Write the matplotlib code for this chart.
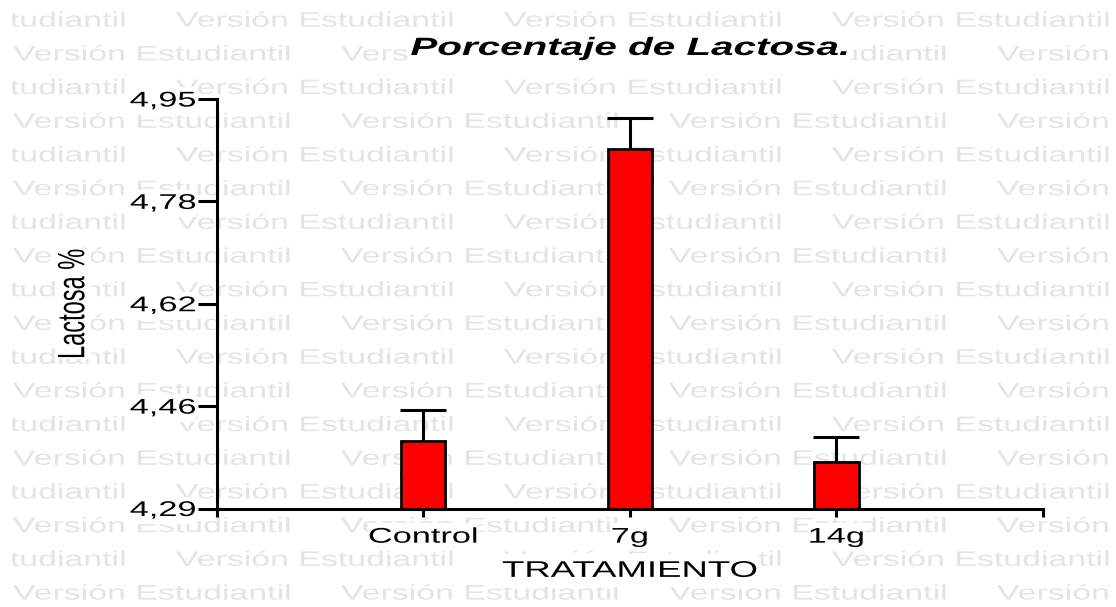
"""
plot.py

Bar chart of lactose percentage per treatment (Control, 7g, 14g) with SEM
whiskers, redrawn from a GraphPad student-version export. That export was
stretched sideways, so text gets widened by a small path effect, and the
"Versión Estudiantil" watermark is tiled behind everything.
"""
import matplotlib
matplotlib.use("Agg")
import matplotlib.pyplot as plt
import numpy as np
from matplotlib.patheffects import AbstractPathEffect
from matplotlib.transforms import Affine2D, Bbox, TransformedBbox


GROUPS = ["Control", "7g", "14g"]
LACTOSE = [4.398, 4.869, 4.365]
SEM = [0.051, 0.051, 0.041]

Y_TICKS = [4.29, 4.455, 4.62, 4.785, 4.95]
Y_TICK_LABELS = ["4,29", "4,46", "4,62", "4,78", "4,95"]

TITLE = "Porcentaje de Lactosa."
X_LABEL = "TRATAMIENTO"
Y_LABEL = "Lactosa %"
WATERMARK = "Versión Estudiantil"

RED = "#FF0000"
WM_GRAY = "#E4E4E4"
SX = 1.615          # sideways stretch of the original export

W, H = 1116, 607
# plot area in pixels (left, right, top, bottom)
AX_L, AX_R, AX_T, AX_B = 216.5, 1043, 99, 508.5


class Stretch(AbstractPathEffect):
    """Draw a path widened horizontally around its left/center/right edge
    (and optionally made taller around its middle)."""

    def __init__(self, sx=SX, anchor="center", sy=1.0):
        super().__init__()
        self.sx = sx
        self.sy = sy
        self.anchor = anchor

    def draw_path(self, renderer, gc, tpath, affine, rgbFace=None):
        ext = tpath.get_extents(affine)
        if self.anchor == "left":
            x0 = ext.x0
        elif self.anchor == "right":
            x0 = ext.x1
        else:
            x0 = (ext.x0 + ext.x1) / 2
        y0 = (ext.y0 + ext.y1) / 2
        affine = affine + (Affine2D().translate(-x0, -y0)
                           .scale(self.sx, self.sy).translate(x0, y0))
        renderer.draw_path(gc, tpath, affine, rgbFace)


def widen(text, anchor="center", box_sy=1.45):
    # white box behind the text, stretched the same way as the glyphs;
    # GraphPad's boxes are a bit taller than the glyphs
    text.set_path_effects([Stretch(SX, anchor)])
    text.set_bbox(dict(facecolor="white", edgecolor="none", pad=0))
    text.get_bbox_patch().set_path_effects([Stretch(SX, anchor, box_sy)])


def draw_watermark(fig):
    # the watermark only starts ~12 px in from the left edge
    clip = TransformedBbox(Bbox([[12 / W, 0], [1, 1]]), fig.transFigure)
    for row in range(18):
        y = 1 - (26.7 + 33.7 * row) / H
        x = -152 if row % 2 == 0 else 13
        while x < W:
            t = fig.text(x / W, y, WATERMARK, fontsize=15.1, color=WM_GRAY,
                         ha="left", va="baseline", zorder=-10,
                         path_effects=[Stretch(SX, "left")])
            t.set_clip_box(clip)
            t.set_clip_on(True)
            x += 328


def main():
    plt.rcParams["font.family"] = "Liberation Sans"

    fig = plt.figure(figsize=(W / 100, H / 100), dpi=100)
    fig.patch.set_facecolor("white")
    ax = fig.add_axes([AX_L / W, 1 - AX_B / H, (AX_R - AX_L) / W, (AX_B - AX_T) / H])
    ax.patch.set_visible(False)

    draw_watermark(fig)

    x = np.arange(1, len(GROUPS) + 1)
    ax.errorbar(x, LACTOSE, yerr=SEM, fmt="none", ecolor="black",
                elinewidth=2.2, capsize=16.5, capthick=2.2, zorder=2)
    ax.bar(x, LACTOSE, width=0.215, color=RED, edgecolor="black",
           linewidth=2, zorder=3)

    ax.set_xlim(0, len(GROUPS) + 1)
    ax.set_ylim(Y_TICKS[0], Y_TICKS[-1])
    ax.set_xticks(np.arange(0, len(GROUPS) + 2), [""] + GROUPS + [""])
    ax.set_yticks(Y_TICKS, Y_TICK_LABELS)

    for side in ("top", "right"):
        ax.spines[side].set_visible(False)
    for side in ("left", "bottom"):
        ax.spines[side].set_linewidth(2.2)
        ax.spines[side].set_zorder(4)

    ax.tick_params(axis="x", length=5.8, width=2.2, pad=8, labelsize=15.3)
    ax.tick_params(axis="y", length=13.7, width=2.2, pad=1.0, labelsize=15.3)
    for lab in ax.get_xticklabels():
        widen(lab, "center")
    for lab in ax.get_yticklabels():
        widen(lab, "right")

    ax.set_xlabel(X_LABEL, fontsize=16.3)
    ax.xaxis.set_label_coords(0.5, -0.123)
    widen(ax.xaxis.label)

    ax.set_ylabel(Y_LABEL, fontsize=17)
    ax.yaxis.set_label_coords(-0.16, 0.5)
    widen(ax.yaxis.label, box_sy=1.0)

    title = ax.set_title(TITLE, fontsize=18, fontweight="bold",
                         fontstyle="italic", pad=31.7)
    widen(title, box_sy=1.2)

    fig.savefig("out.png", dpi=100, facecolor="white")
    plt.close(fig)


if __name__ == "__main__":
    main()
